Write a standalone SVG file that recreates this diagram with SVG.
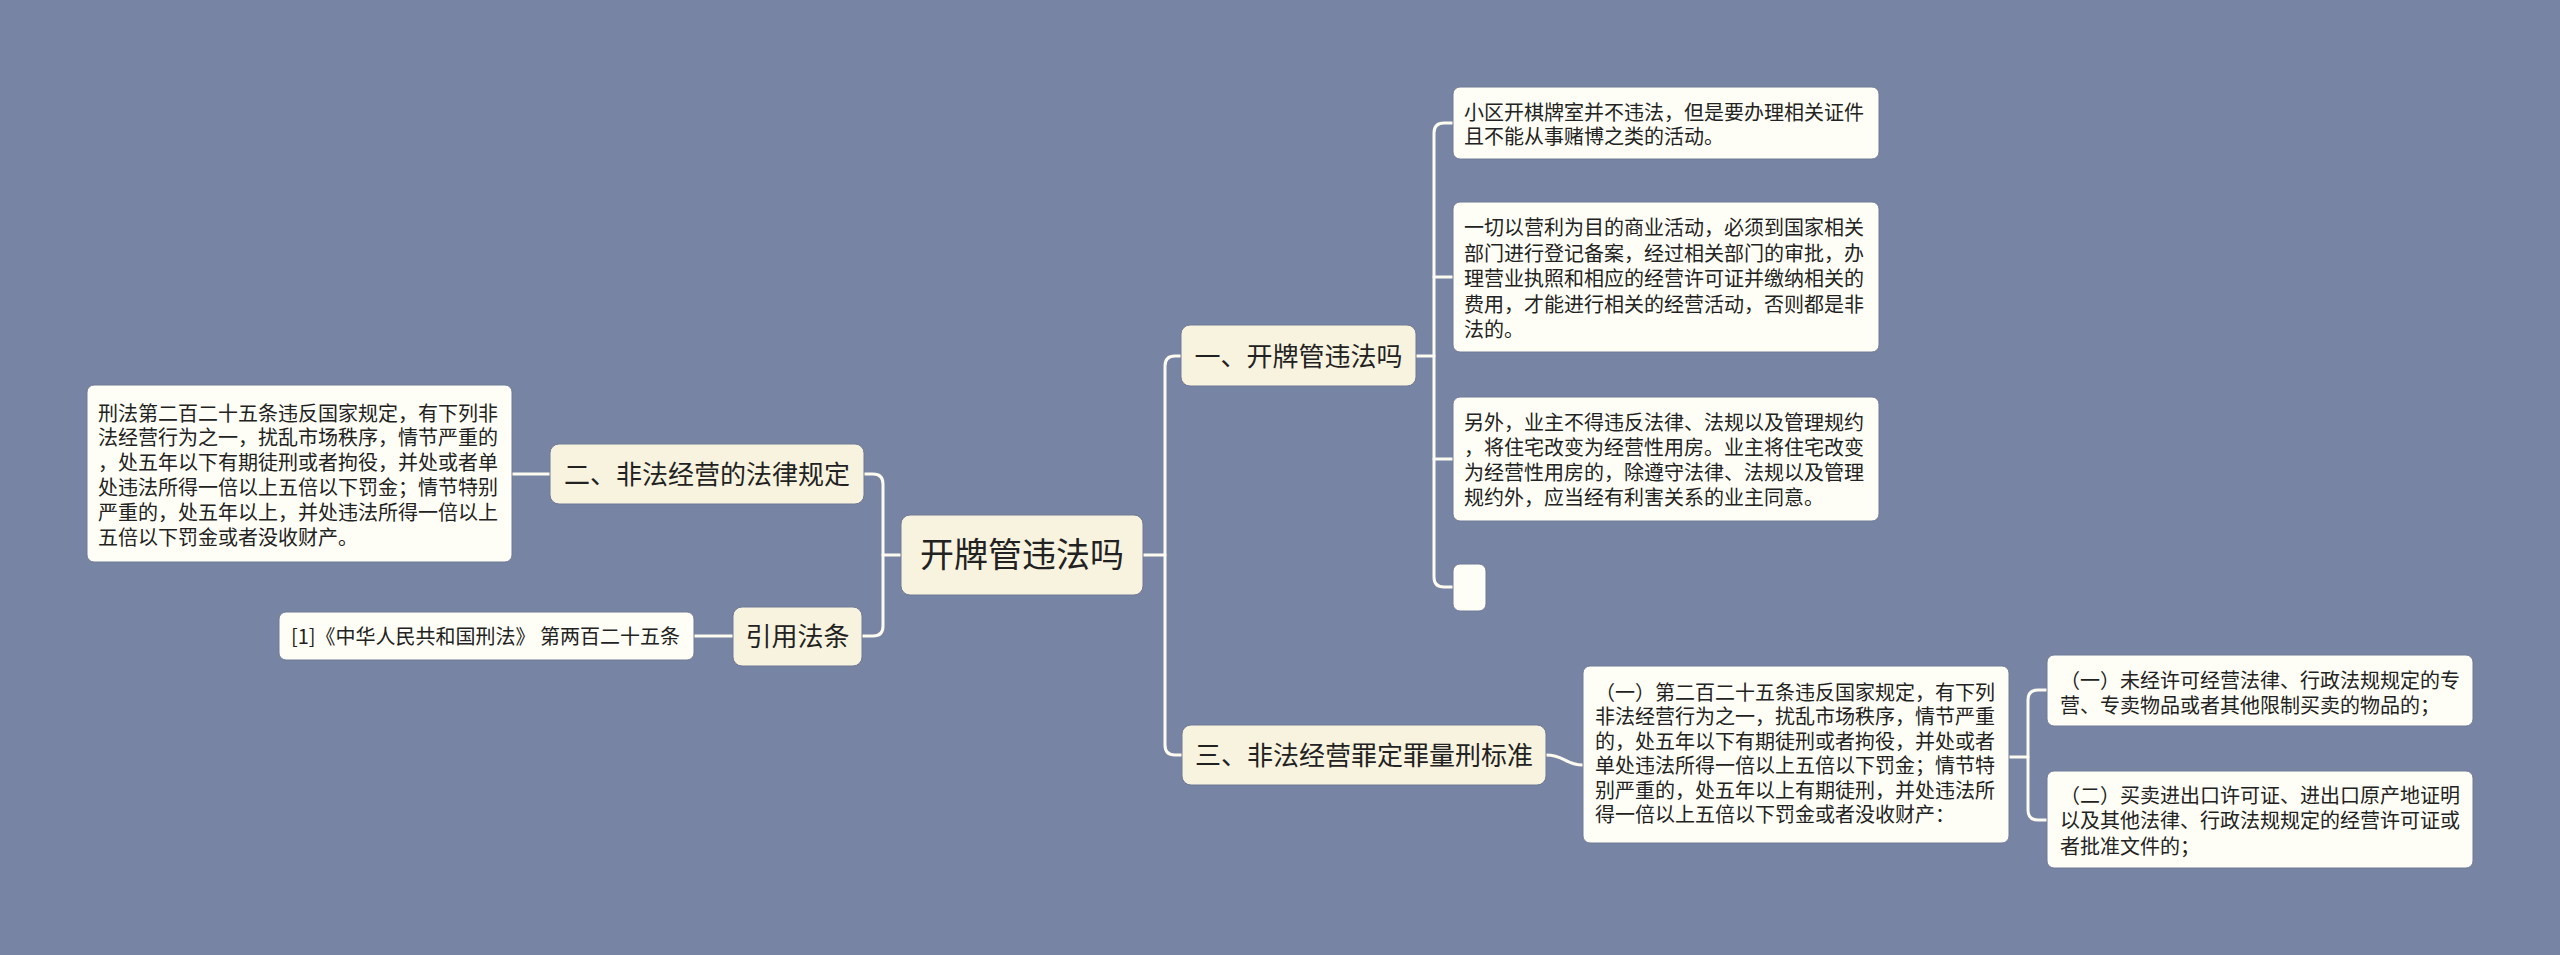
<svg xmlns="http://www.w3.org/2000/svg" width="2560" height="955" viewBox="0 0 2560 955">
<style>
.bg{fill:#7784a3}
.leaf{fill:#fffef6;stroke:#6f7a96;stroke-width:1}
.br{fill:#f8f3df;stroke:#6f7a96;stroke-width:1}
.t{font-family:"Noto Sans CJK SC","Noto Sans",sans-serif;fill:#222}
.s{font-size:20px}
.m{font-size:26px}
.l{font-size:34px}
.c{fill:none;stroke:#fdfbef;stroke-width:3;stroke-linecap:round}
</style>
<rect class="bg" x="0" y="0" width="2560" height="955"/>
<g id="connectors">
<path class="c" d="M901,555 H883"/>
<path class="c" d="M864,474 H873 Q883,474 883,484 V626 Q883,636 873,636 H862"/>
<path class="c" d="M550,474 H512"/>
<path class="c" d="M733,636 H694"/>
<path class="c" d="M1143,555 H1165"/>
<path class="c" d="M1181,356 H1175 Q1165,356 1165,366 V745 Q1165,755 1175,755 H1182"/>
<path class="c" d="M1416,356 H1434"/>
<path class="c" d="M1453,123 H1444 Q1434,123 1434,133 V577 Q1434,587 1444,587 H1453"/>
<path class="c" d="M1434,277 H1453"/>
<path class="c" d="M1434,459 H1453"/>
<path class="c" d="M1546,755 C1565,755 1565,765 1583,765"/>
<path class="c" d="M2009,757 H2028"/>
<path class="c" d="M2047,690 H2038 Q2028,690 2028,700 V810 Q2028,820 2038,820 H2047"/>
</g>
<g id="root">
<rect class="br" x="901" y="515" width="242" height="80" rx="9"/>
<text class="t l" x="1022" y="567" text-anchor="middle">开牌管违法吗</text>
</g>
<g id="n1">
<rect class="br" x="1181" y="325" width="235" height="61" rx="9"/>
<text class="t m" x="1298.5" y="365.5" text-anchor="middle">一、开牌管违法吗</text>
</g>
<g id="n1a">
<rect class="leaf" x="1453" y="87" width="426" height="72" rx="7"/>
<text class="t s" x="1464" y="119.5">小区开棋牌室并不违法，但是要办理相关证件</text>
<text class="t s" x="1464" y="144">且不能从事赌博之类的活动。</text>
</g>
<g id="n1b">
<rect class="leaf" x="1453" y="202" width="426" height="150" rx="7"/>
<text class="t s" x="1464" y="235">一切以营利为目的商业活动，必须到国家相关</text>
<text class="t s" x="1464" y="260.5">部门进行登记备案，经过相关部门的审批，办</text>
<text class="t s" x="1464" y="286">理营业执照和相应的经营许可证并缴纳相关的</text>
<text class="t s" x="1464" y="311.5">费用，才能进行相关的经营活动，否则都是非</text>
<text class="t s" x="1464" y="337">法的。</text>
</g>
<g id="n1c">
<rect class="leaf" x="1453" y="397" width="426" height="124" rx="7"/>
<text class="t s" x="1464" y="430">另外，业主不得违反法律、法规以及管理规约</text>
<text class="t s" x="1464" y="455">，将住宅改变为经营性用房。业主将住宅改变</text>
<text class="t s" x="1464" y="480">为经营性用房的，除遵守法律、法规以及管理</text>
<text class="t s" x="1464" y="505">规约外，应当经有利害关系的业主同意。</text>
</g>
<g id="n1d">
<rect class="leaf" x="1453" y="564" width="33" height="47" rx="7"/>
</g>
<g id="n3">
<rect class="br" x="1182" y="725" width="364" height="60" rx="9"/>
<text class="t m" x="1364" y="764.5" text-anchor="middle">三、非法经营罪定罪量刑标准</text>
</g>
<g id="n3a">
<rect class="leaf" x="1583" y="666" width="426" height="177" rx="7"/>
<text class="t s" x="1595" y="699.5">（一）第二百二十五条违反国家规定，有下列</text>
<text class="t s" x="1595" y="724">非法经营行为之一，扰乱市场秩序，情节严重</text>
<text class="t s" x="1595" y="748.5">的，处五年以下有期徒刑或者拘役，并处或者</text>
<text class="t s" x="1595" y="773">单处违法所得一倍以上五倍以下罚金；情节特</text>
<text class="t s" x="1595" y="797.5">别严重的，处五年以上有期徒刑，并处违法所</text>
<text class="t s" x="1595" y="822">得一倍以上五倍以下罚金或者没收财产：</text>
</g>
<g id="n3b">
<rect class="leaf" x="2047" y="655" width="426" height="71" rx="7"/>
<text class="t s" x="2060" y="687.5">（一）未经许可经营法律、行政法规规定的专</text>
<text class="t s" x="2060" y="712.5">营、专卖物品或者其他限制买卖的物品的；</text>
</g>
<g id="n3c">
<rect class="leaf" x="2047" y="771" width="426" height="97" rx="7"/>
<text class="t s" x="2060" y="802.5">（二）买卖进出口许可证、进出口原产地证明</text>
<text class="t s" x="2060" y="828">以及其他法律、行政法规规定的经营许可证或</text>
<text class="t s" x="2060" y="853.5">者批准文件的；</text>
</g>
<g id="n2">
<rect class="br" x="550" y="444" width="314" height="60" rx="9"/>
<text class="t m" x="707" y="483.5" text-anchor="middle">二、非法经营的法律规定</text>
</g>
<g id="n2a">
<rect class="leaf" x="87" y="385" width="425" height="177" rx="7"/>
<text class="t s" x="98" y="420.5">刑法第二百二十五条违反国家规定，有下列非</text>
<text class="t s" x="98" y="445.3">法经营行为之一，扰乱市场秩序，情节严重的</text>
<text class="t s" x="98" y="470.1">，处五年以下有期徒刑或者拘役，并处或者单</text>
<text class="t s" x="98" y="494.9">处违法所得一倍以上五倍以下罚金；情节特别</text>
<text class="t s" x="98" y="519.7">严重的，处五年以上，并处违法所得一倍以上</text>
<text class="t s" x="98" y="544.5">五倍以下罚金或者没收财产。</text>
</g>
<g id="n4">
<rect class="br" x="733" y="607" width="129" height="59" rx="9"/>
<text class="t m" x="797.5" y="645.5" text-anchor="middle">引用法条</text>
</g>
<g id="n4a">
<rect class="leaf" x="279" y="612" width="415" height="48" rx="7"/>
<text class="t s" x="291" y="643.5">[1]《中华人民共和国刑法》 第两百二十五条</text>
</g>
</svg>
